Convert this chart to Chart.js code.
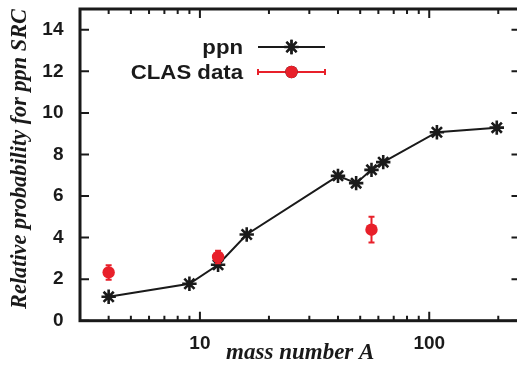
<!DOCTYPE html>
<html>
<head>
<meta charset="utf-8">
<script src="https://cdn.jsdelivr.net/npm/chart.js@4/dist/chart.umd.min.js"></script>
<style>
  html, body { margin: 0; padding: 0; overflow: hidden; background: #ffffff; width: 517px; height: 375px; }
  #wrap { position: relative; width: 517px; height: 375px; overflow: hidden; }
  #c { position: absolute; left: 0; top: 0; }
</style>
</head>
<body>
<div id="wrap"><canvas id="c" width="522" height="375"></canvas></div>
<script>
// Calculated ppn short-range-correlation probability versus mass number
const massNumbers = [4, 9, 12, 16, 40, 48, 56, 63, 108, 197];
const ppnValues   = [1.15, 1.78, 2.69, 4.15, 6.97, 6.62, 7.26, 7.63, 9.07, 9.29];

// CLAS measurements with their uncertainties
const clasMass   = [4, 12, 56];
const clasValues = [2.32, 3.07, 4.38];
const clasErrors = [0.35, 0.3, 0.62];

// Axis ticks
const xLabelTicks = [10, 100];
const xMinorTicks = [4, 5, 6, 7, 8, 9, 20, 30, 40, 50, 60, 70, 80, 90, 200];
const yTicks      = [0, 2, 4, 6, 8, 10, 12, 14];

const INK = '#1a1a1a';
const RED = '#e8202a';
const SANS = '"Liberation Sans", Arial, Helvetica, sans-serif';
const SERIF = '"Liberation Serif", "Times New Roman", Times, serif';

// Frame, inward ticks, error bars, key and y title drawn over the chart
const framePlugin = {
  id: 'frame',
  afterDatasetsDraw(chart) {
    const ctx = chart.ctx;
    const area = chart.chartArea;
    const xs = chart.scales.x, ys = chart.scales.y;
    ctx.save();

    // error bars of the CLAS points
    ctx.strokeStyle = RED;
    ctx.lineWidth = 2;
    clasMass.forEach((a, i) => {
      const px = xs.getPixelForValue(a);
      const top = ys.getPixelForValue(clasValues[i] + clasErrors[i]);
      const bot = ys.getPixelForValue(clasValues[i] - clasErrors[i]);
      ctx.beginPath();
      ctx.moveTo(px, top); ctx.lineTo(px, bot);
      ctx.moveTo(px - 3, top); ctx.lineTo(px + 3, top);
      ctx.moveTo(px - 3, bot); ctx.lineTo(px + 3, bot);
      ctx.stroke();
    });

    // inward ticks on all four sides
    ctx.strokeStyle = INK;
    ctx.lineWidth = 2;
    ctx.beginPath();
    yTicks.forEach(v => {
      const py = ys.getPixelForValue(v);
      ctx.moveTo(area.left, py); ctx.lineTo(area.left + 9, py);
      ctx.moveTo(area.right, py); ctx.lineTo(area.right - 9, py);
    });
    xLabelTicks.forEach(v => {
      const px = xs.getPixelForValue(v);
      ctx.moveTo(px, area.bottom); ctx.lineTo(px, area.bottom - 9);
      ctx.moveTo(px, area.top); ctx.lineTo(px, area.top + 9);
    });
    xMinorTicks.forEach(v => {
      const px = xs.getPixelForValue(v);
      ctx.moveTo(px, area.bottom); ctx.lineTo(px, area.bottom - 5);
      ctx.moveTo(px, area.top); ctx.lineTo(px, area.top + 5);
    });
    ctx.stroke();

    // frame
    ctx.lineWidth = 3;
    ctx.strokeRect(area.left, area.top, area.right - area.left, area.bottom - area.top);

    // y axis title
    ctx.save();
    ctx.fillStyle = INK;
    ctx.font = 'italic bold 22.3px ' + SERIF;
    ctx.textAlign = 'center';
    ctx.textBaseline = 'middle';
    ctx.translate(20, 159);
    ctx.rotate(-Math.PI / 2);
    ctx.fillText('Relative probability for ppn SRC', 0, 0);
    ctx.restore();

    // key
    const textRight = 243;
    const x0 = 258, x1 = 325, xm = (x0 + x1) / 2;
    const rows = [
      { label: 'ppn', y: 47, ds: 0 },
      { label: 'CLAS data', y: 72, ds: 1 }
    ];
    rows.forEach(r => {
      ctx.save();
      ctx.fillStyle = INK;
      ctx.font = 'bold 20px ' + SANS;
      ctx.textAlign = 'right';
      ctx.textBaseline = 'alphabetic';
      ctx.translate(textRight, r.y + 7);
      ctx.scale(1.11, 1);
      ctx.fillText(r.label, 0, 0);
      ctx.restore();

      const ds = chart.data.datasets[r.ds];
      ctx.strokeStyle = ds.borderColor;
      ctx.lineWidth = 2;
      ctx.beginPath();
      ctx.moveTo(x0, r.y); ctx.lineTo(x1, r.y);
      if (r.ds === 1) {
        ctx.moveTo(x0, r.y - 3); ctx.lineTo(x0, r.y + 3);
        ctx.moveTo(x1, r.y - 3); ctx.lineTo(x1, r.y + 3);
      }
      ctx.stroke();
      Chart.helpers.drawPoint(ctx, {
        pointStyle: ds.pointStyle,
        radius: ds.pointRadius,
        borderWidth: ds.pointBorderWidth,
        rotation: 0
      }, xm, r.y);
      ctx.fillStyle = ds.pointBackgroundColor;
      ctx.strokeStyle = ds.pointBorderColor;
      ctx.lineWidth = ds.pointBorderWidth;
      if (ds.pointStyle === 'star') ctx.stroke(); else ctx.fill();
    });

    ctx.restore();
  }
};

new Chart(document.getElementById('c'), {
  type: 'scatter',
  data: {
    datasets: [
      {
        label: 'ppn',
        data: massNumbers.map((a, i) => ({ x: a, y: ppnValues[i] })),
        showLine: true,
        borderColor: INK,
        borderWidth: 2,
        pointStyle: 'star',
        pointRadius: 7.2,
        pointBorderWidth: 2.6,
        pointBorderColor: INK,
        pointBackgroundColor: INK,
        order: 1
      },
      {
        label: 'CLAS data',
        data: clasMass.map((a, i) => ({ x: a, y: clasValues[i] })),
        borderColor: RED,
        pointStyle: 'circle',
        pointRadius: 6.2,
        pointBorderWidth: 0,
        pointBorderColor: RED,
        pointBackgroundColor: RED,
        order: 0
      }
    ]
  },
  options: {
    responsive: false,
    maintainAspectRatio: false,
    animation: false,
    devicePixelRatio: 1,
    layout: { autoPadding: false, padding: { top: 9, right: 1.5, left: 0, bottom: 0 } },
    plugins: { legend: { display: false }, tooltip: { enabled: false } },
    scales: {
      x: {
        type: 'logarithmic',
        min: 3,
        max: 250,
        grid: { display: false, drawTicks: false },
        border: { display: false },
        afterBuildTicks: s => { s.ticks = xLabelTicks.map(v => ({ value: v })); },
        afterFit: s => { s.height = 54.3; s.paddingLeft = 0; s.paddingRight = 0; },
        ticks: {
          autoSkip: false,
          maxRotation: 0,
          padding: 12,
          color: INK,
          font: { family: SANS, weight: 'bold', size: 19 },
          callback: v => String(v)
        },
        title: {
          display: true,
          text: 'mass number A',
          color: INK,
          font: { family: SERIF, style: 'italic', weight: 'bold', size: 23 },
          padding: { top: 0, bottom: 8.5 }
        }
      },
      y: {
        type: 'linear',
        min: 0,
        max: 15,
        grid: { display: false, drawTicks: false },
        border: { display: false },
        afterBuildTicks: s => { s.ticks = yTicks.map(v => ({ value: v })); },
        afterFit: s => { s.width = 80; s.paddingTop = 0; s.paddingBottom = 0; },
        ticks: {
          padding: 16.5,
          color: INK,
          font: { family: SANS, weight: 'bold', size: 19 },
          callback: v => String(v)
        }
      }
    }
  },
  plugins: [framePlugin]
});
</script>
</body>
</html>
